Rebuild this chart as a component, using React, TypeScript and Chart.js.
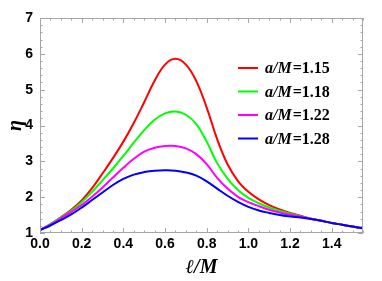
import React, { useEffect, useRef } from 'react';
import { Chart, registerables } from 'chart.js';

Chart.register(...registerables);

// ℓ/M sample points
const ELL = [
  0, 0.05, 0.1, 0.15, 0.2, 0.25, 0.3, 0.35, 0.4, 0.45, 0.5, 0.55, 0.6, 0.65, 0.7, 0.75,
  0.8, 0.85, 0.9, 0.95, 1.0, 1.05, 1.1, 1.15, 1.2, 1.25, 1.3, 1.35, 1.4, 1.45, 1.5, 1.55,
];

// η for each a/M
const ETA_115 = [
  1.08, 1.25, 1.44, 1.65, 1.91, 2.25, 2.66, 3.09, 3.55, 4.07, 4.65, 5.25, 5.7, 5.86, 5.7, 5.24,
  4.5, 3.62, 2.92, 2.45, 2.15, 1.94, 1.78, 1.66, 1.56, 1.48, 1.4, 1.34, 1.28, 1.23, 1.18, 1.13,
];
const ETA_118 = [
  1.08, 1.24, 1.43, 1.62, 1.86, 2.15, 2.47, 2.8, 3.15, 3.52, 3.87, 4.16, 4.34, 4.39, 4.3, 4.04,
  3.55, 2.95, 2.52, 2.2, 1.98, 1.83, 1.71, 1.62, 1.54, 1.47, 1.4, 1.34, 1.28, 1.23, 1.18, 1.13,
];
const ETA_122 = [
  1.08, 1.23, 1.41, 1.59, 1.78, 2.01, 2.27, 2.55, 2.82, 3.07, 3.27, 3.38, 3.43, 3.43, 3.36, 3.2,
  2.92, 2.54, 2.24, 2.01, 1.86, 1.75, 1.65, 1.57, 1.51, 1.46, 1.4, 1.34, 1.28, 1.23, 1.18, 1.13,
];
const ETA_128 = [
  1.08, 1.21, 1.36, 1.52, 1.71, 1.92, 2.13, 2.34, 2.51, 2.63, 2.7, 2.74, 2.75, 2.74, 2.69, 2.6,
  2.44, 2.24, 2.04, 1.87, 1.73, 1.63, 1.56, 1.5, 1.46, 1.43, 1.39, 1.34, 1.28, 1.23, 1.18, 1.13,
];

const A_VALUES = ['1.15', '1.18', '1.22', '1.28'];
const SERIES = [ETA_115, ETA_118, ETA_122, ETA_128];
const COLORS = ['#ff0000', '#00ff00', '#ff00ff', '#0000ff'];

const X_MIN = 0;
const X_MAX = 1.55;
const Y_MIN = 1;
const Y_MAX = 7;

const framePlugin = {
  id: 'frame',
  afterDatasetsDraw(chart: any) {
    const { ctx, chartArea, scales } = chart;
    const { left, right, top, bottom } = chartArea;
    const xs = scales.x;
    const ys = scales.y;
    ctx.save();
    ctx.strokeStyle = '#a6a6a6';
    ctx.lineWidth = 1;
    ctx.strokeRect(left + 0.5, top + 0.5, right - left - 1, bottom - top - 1);
    ctx.beginPath();
    for (let i = 0; i <= 31; i++) {
      const v = i * 0.05;
      if (v > X_MAX + 1e-9) break;
      const px = Math.round(xs.getPixelForValue(v)) + 0.5;
      const len = i % 4 === 0 ? 5 : 2.5;
      ctx.moveTo(px, bottom);
      ctx.lineTo(px, bottom - len);
      ctx.moveTo(px, top);
      ctx.lineTo(px, top + len);
    }
    for (let i = 0; i <= 30; i++) {
      const v = Y_MIN + i * 0.2;
      const py = Math.round(ys.getPixelForValue(v)) + 0.5;
      const len = i % 5 === 0 ? 5 : 2.5;
      ctx.moveTo(left, py);
      ctx.lineTo(left + len, py);
      ctx.moveTo(right, py);
      ctx.lineTo(right - len, py);
    }
    ctx.stroke();
    ctx.restore();
  },
};

const legendPlugin = {
  id: 'innerLegend',
  afterDatasetsDraw(chart: any) {
    const { ctx, chartArea } = chart;
    const { right, top } = chartArea;
    const x0 = right - 125;
    const x1 = x0 + 20;
    const tx = x1 + 7;
    ctx.save();
    ctx.textBaseline = 'middle';
    A_VALUES.forEach((a, i) => {
      const y = top + 50 + i * 23.5;
      ctx.strokeStyle = COLORS[i];
      ctx.lineWidth = 2;
      ctx.beginPath();
      ctx.moveTo(x0, y);
      ctx.lineTo(x1, y);
      ctx.stroke();
      ctx.fillStyle = '#000';
      ctx.font = 'italic bold 16px "Liberation Serif"';
      ctx.fillText('a/M', tx, y + 1);
      const w = ctx.measureText('a/M').width;
      ctx.font = 'bold 16px "Liberation Serif"';
      ctx.fillText('=' + a, tx + w + 1, y + 1);
    });
    ctx.restore();
  },
};

export default function App() {
  const ref = useRef<HTMLCanvasElement | null>(null);

  useEffect(() => {
    document.body.style.margin = '0';
    if (!ref.current) return;
    const chart = new Chart(ref.current, {
      type: 'line',
      data: {
        datasets: SERIES.map((s, i) => ({
          label: 'a/M=' + A_VALUES[i],
          data: ELL.map((x, j) => ({ x, y: s[j] })),
          borderColor: COLORS[i],
          backgroundColor: COLORS[i],
          borderWidth: 2,
          pointRadius: 0,
          fill: false,
          tension: 0.4,
          order: 4 - i,
        })),
      },
      options: {
        animation: false,
        responsive: true,
        maintainAspectRatio: false,
        layout: { padding: { top: 18, right: 19, left: 0, bottom: 0 } },
        plugins: {
          legend: { display: false },
          tooltip: { enabled: false },
        },
        scales: {
          x: {
            type: 'linear',
            min: X_MIN,
            max: X_MAX,
            grid: { display: false, drawTicks: false, tickLength: 0 },
            border: { display: false },
            afterFit(scale: any) {
              scale.height = 48;
            },
            ticks: {
              stepSize: 0.2,
              includeBounds: false,
              maxRotation: 0,
              padding: 3,
              color: '#000',
              font: { family: '"Liberation Sans"', size: 14, weight: 'bold' },
              callback: (v: any) => Number(v).toFixed(1),
            },
            title: {
              display: true,
              text: 'ℓ/M',
              color: '#000',
              font: { family: '"Liberation Serif"', size: 20, weight: 'bold', style: 'italic' },
              padding: { top: 0, bottom: 1 },
            },
          },
          y: {
            type: 'linear',
            min: Y_MIN,
            max: Y_MAX,
            grid: { display: false, drawTicks: false, tickLength: 0 },
            border: { display: false },
            afterFit(scale: any) {
              scale.width = 40;
            },
            ticks: {
              stepSize: 1,
              includeBounds: false,
              padding: 7,
              color: '#000',
              font: { family: '"Liberation Sans"', size: 14, weight: 'bold' },
              callback: (v: any) => String(v),
            },
            title: {
              display: true,
              text: 'η',
              color: '#000',
              font: { family: '"Liberation Serif"', size: 20, weight: 'bold', style: 'italic' },
              padding: { top: 4, bottom: 0 },
            },
          },
        },
      },
      plugins: [framePlugin, legendPlugin],
    });
    return () => chart.destroy();
  }, []);

  return (
    <div style={{ width: 382, height: 281, position: 'relative', background: '#fff' }}>
      <canvas ref={ref} />
    </div>
  );
}
